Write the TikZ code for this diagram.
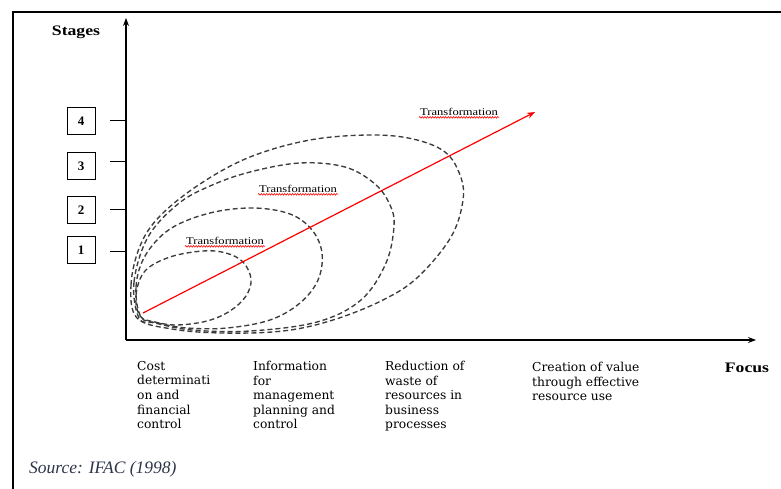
\documentclass[tikz,border=0pt]{standalone}
\usepackage{fontspec}
\setmainfont{Liberation Serif}
\newfontfamily\dvs{DejaVu Serif}
\newfontfamily\tfont[FakeStretch=1.22]{Liberation Serif}
\usetikzlibrary{arrows.meta,decorations.pathmorphing}
\definecolor{srcblue}{RGB}{46,52,72}
\definecolor{dashgray}{RGB}{60,60,60}
\tikzset{
  axis/.style={line width=1.2pt,-{Stealth[length=8pt,width=6pt]}},
  tick/.style={line width=1pt},
  stagebox/.style={draw,line width=0.9pt,minimum width=28pt,minimum height=27pt,inner sep=0pt,font=\fontsize{13}{14}\selectfont\bfseries},
  ring/.style={draw=dashgray,line width=1.35pt,dash pattern=on 5pt off 3pt},
  translabel/.style={font=\tfont\fontsize{10.3}{12}\selectfont,inner sep=1pt},
  squiggle/.style={red,line width=0.6pt,decorate,decoration={snake,amplitude=0.8pt,segment length=2.6pt}},
  focuslabel/.style={anchor=north west,align=left,inner sep=0pt,font=\dvs\fontsize{12.3}{14.6}\selectfont},
  frame/.style={line width=2pt}
}
\begin{document}
\begin{tikzpicture}[x=1pt,y=-1pt]
\useasboundingbox (0,0) rectangle (781,489);
% frame
\coordinate (fl) at (13,489);
\coordinate (fc) at (13,12);
\coordinate (fr) at (781,12);
\draw[frame] (fl) -- (fc) -- (fr);
% axes
\coordinate (O) at (126,340);
\coordinate (ytop) at (126,18);
\coordinate (xend) at (756,340);
\draw[axis] (O) -- (ytop);
\draw[axis] (O) -- (xend);
\node[font=\fontsize{14.5}{16}\selectfont\bfseries\tfont] (stages) at (76,32) {Stages};
\node[font=\fontsize{14.5}{16}\selectfont\bfseries\tfont] (focus) at (747,368) {Focus};
% stage boxes and ticks
\foreach \n/\yb/\yt in {4/121/121, 3/166/162, 2/210/209, 1/250/251}{
  \node[stagebox] (b\n) at (81,\yb) {\n};
  \coordinate (ta\n) at (110,\yt);
  \coordinate (tb\n) at (126,\yt);
  \draw[tick] (ta\n) -- (tb\n);
}
% dashed rings
\draw[ring] plot[smooth cycle,tension=0.6] coordinates {(140,316) (136,295) (145,271) (170,257) (203,251) (226,253) (243,262) (251,279) (246,296) (230,311) (207,321) (177,325) (155,322)};
\draw[ring] plot[smooth cycle,tension=0.6] coordinates {(141,317) (136,287) (145,256) (170,229) (210,213) (253,208) (290,214) (312,230) (322,253) (318,280) (300,303) (270,320) (227,328) (187,328) (158,323)};
\draw[ring] plot[smooth cycle,tension=0.6] coordinates {(139,318) (134,282) (148,237) (178,204) (210,186) (250,172) (300,163) (345,167) (375,184) (390,205) (394,226) (386,263) (361,300) (317,322) (250,331) (192,330) (155,323)};
\draw[ring] plot[smooth cycle,tension=0.6] coordinates {(137,318) (131,285) (140,246) (160,216) (200,184) (250,157) (310,140) (370,135) (413,139) (445,152) (460,175) (463,200) (451,237) (418,277) (383,300) (333,320) (283,331) (222,333) (172,329)};
% main red arrow
\coordinate (rs) at (143,313);
\coordinate (re) at (535,112);
\draw[red,line width=1.2pt,-{Stealth[length=8pt,width=6pt]}] (rs) -- (re);
% transformation labels
\node[translabel] (t1) at (225,241) {Transformation};
\node[translabel] (t2) at (298,189) {Transformation};
\node[translabel] (t3) at (459,112) {Transformation};
\foreach \t in {t1,t2,t3}{
  \draw[squiggle] ([yshift=-0.5pt]\t.south west) -- ([yshift=-0.5pt]\t.south east);
}
% focus labels
\node[focuslabel] (f1) at (137,361) {Cost\\determinati\\on and\\financial\\control};
\node[focuslabel] (f2) at (253,361) {Information\\for\\management\\planning and\\control};
\node[focuslabel] (f3) at (385,361) {Reduction of\\waste of\\resources in\\business\\processes};
\node[focuslabel] (f4) at (532,362) {Creation of value\\through effective\\resource use};
% source
\node[anchor=west,inner sep=0pt,text=srcblue,font=\fontsize{17.5}{20}\selectfont\itshape] (src) at (29,469) {Source: IFAC (1998)};
\end{tikzpicture}
\end{document}
